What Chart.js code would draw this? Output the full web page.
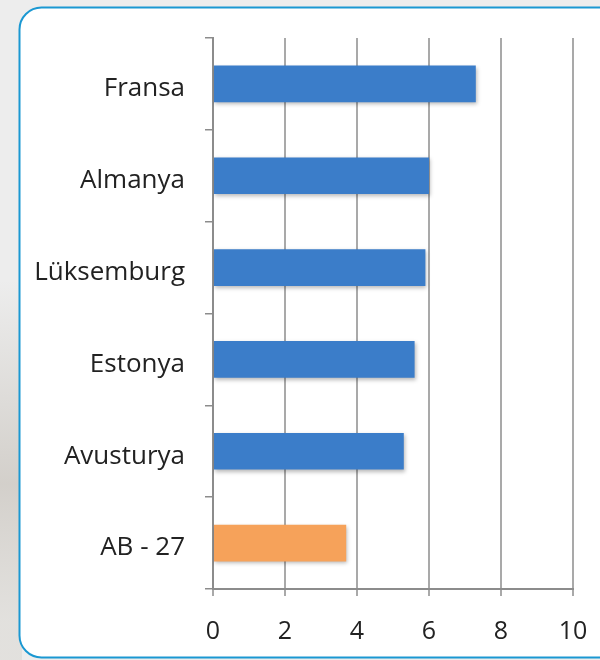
<!DOCTYPE html>
<html>
<head>
<meta charset="utf-8">
<script src="https://cdn.jsdelivr.net/npm/chart.js@4"></script>
<style>
  html, body { margin: 0; padding: 0; background: #ececec; }
  #wrap { width: 600px; height: 660px; }
</style>
</head>
<body>
<div id="wrap"><canvas id="grafik" width="600" height="660"></canvas></div>
<script>
const countries = ["Fransa", "Almanya", "Lüksemburg", "Estonya", "Avusturya", "AB - 27"];
const values = [7.3, 6.0, 5.9, 5.6, 5.3, 3.7];
const xTicks = [0, 2, 4, 6, 8, 10];

// background panel with the rounded teal frame
const panel = {
  id: "panel",
  beforeDraw(chart) {
    const ctx = chart.ctx;
    ctx.save();
    ctx.fillStyle = "#ededed";
    ctx.fillRect(0, 0, chart.width, chart.height);
    const g = ctx.createLinearGradient(0, 280, 0, 620);
    g.addColorStop(0, "rgba(200,195,188,0)");
    g.addColorStop(0.6, "rgba(200,195,188,0.7)");
    g.addColorStop(1, "rgba(215,212,206,0.5)");
    ctx.fillStyle = g;
    ctx.fillRect(0, 280, 22, 380);
    ctx.beginPath();
    ctx.roundRect(19.5, 7.5, 620, 650, 22);
    ctx.fillStyle = "#ffffff";
    ctx.fill();
    ctx.lineWidth = 2;
    ctx.strokeStyle = "#1b98d2";
    ctx.stroke();
    ctx.restore();
  },
  beforeDatasetDraw(chart) {
    const ctx = chart.ctx;
    ctx.save();
    ctx.shadowColor = "rgba(0,0,0,0.28)";
    ctx.shadowBlur = 4;
    ctx.shadowOffsetX = 1;
    ctx.shadowOffsetY = 2;
  },
  afterDatasetDraw(chart) {
    chart.ctx.restore();
  },
};

new Chart(document.getElementById("grafik"), {
  type: "bar",
  data: {
    labels: countries,
    datasets: [
      {
        data: values,
        backgroundColor: (c) => (c.dataIndex === countries.length - 1 ? "#f6a25a" : "#3b7dc9"),
        borderWidth: 0,
        barPercentage: 0.4,
        categoryPercentage: 1,
      },
    ],
  },
  options: {
    indexAxis: "y",
    responsive: false,
    animation: false,
    layout: { padding: { top: 38, right: 27, bottom: 1, left: 0 } },
    plugins: { legend: { display: false }, tooltip: { enabled: false } },
    scales: {
      x: {
        min: 0,
        max: 10,
        afterBuildTicks: (s) => { s.ticks = xTicks.map((v) => ({ value: v })); },
        afterFit: (s) => {
          s.height = 70;
          s.paddingLeft = 0;
          s.paddingRight = 0;
        },
        grid: { color: "#a9a9a9", lineWidth: 2, tickLength: 7 },
        border: { color: "#8c8c8c", width: 2 },
        ticks: {
          color: "#222",
          font: { family: "Open Sans", size: 25 },
          padding: 21,
          maxRotation: 0,
        },
      },
      y: {
        afterFit: (s) => { s.width = 213; },
        grid: { offset: true, drawOnChartArea: false, color: "#8c8c8c", lineWidth: 1.5, tickLength: 8 },
        border: { color: "#8c8c8c", width: 2 },
        ticks: {
          color: "#222",
          font: { family: "Open Sans", size: 26 },
          padding: 20,
          labelOffset: 5,
        },
      },
    },
  },
  plugins: [panel],
});
</script>
</body>
</html>
